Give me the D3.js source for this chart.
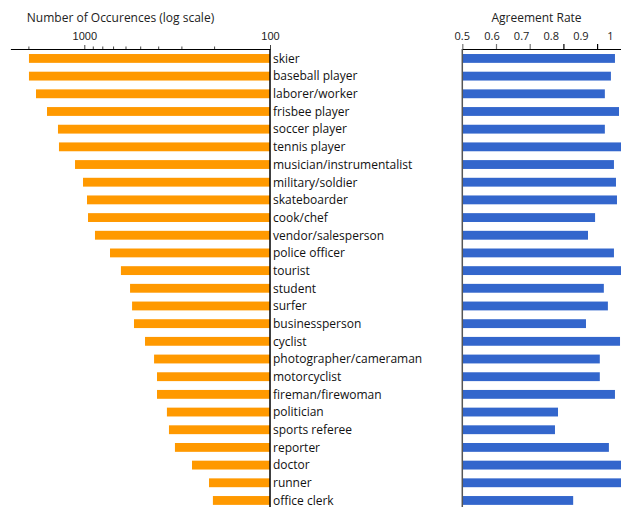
<!DOCTYPE html>
<html lang="en">
<head>
    <meta charset="UTF-8">
    <title>Occurrences and Agreement Rate</title>
    <script src="https://d3js.org/d3.v7.min.js"></script>
    <style>
        body { margin: 0; background: #fff; }
        svg { display: block; font-family: "Open Sans", sans-serif; }
        .title { font-size: 12px; fill: #222; text-anchor: middle; }
        .tick text { font-size: 11px; fill: #222; }
        .cat { font-size: 12px; fill: #111; }
    </style>
</head>
<body>
    <div id="chart"></div>
    <script>
        const categories = ["skier", "baseball player", "laborer/worker", "frisbee player", "soccer player",
            "tennis player", "musician/instrumentalist", "military/soldier", "skateboarder", "cook/chef",
            "vendor/salesperson", "police officer", "tourist", "student", "surfer", "businessperson",
            "cyclist", "photographer/cameraman", "motorcyclist", "fireman/firewoman", "politician",
            "sports referee", "reporter", "doctor", "runner", "office clerk"];
        const occurrences = [1986, 1986, 1820, 1588, 1386, 1369, 1122, 1016, 967, 955, 876, 727, 635,
            567, 553, 540, 471, 421, 406, 406, 359, 350, 325, 263, 213, 203];
        const agreement = [0.953, 0.941, 0.923, 0.965, 0.923, 1.0, 0.950, 0.956, 0.959, 0.894, 0.873,
            0.950, 1.0, 0.920, 0.932, 0.867, 0.968, 0.908, 0.908, 0.953, 0.784, 0.775, 0.935, 1.0, 1.0, 0.829];
        const countTicks = [2000, 1000, 900, 800, 700, 600, 500, 400, 300, 200, 100];
        const countLabels = [1000, 100];
        const rateTicks = [0.5, 0.6, 0.7, 0.8, 0.9, 1.0];

        const width = 621, height = 507;
        const axisY = 49;

        const svg = d3.select("#chart").append("svg")
            .attr("width", width)
            .attr("height", height);

        const y = d3.scaleBand()
            .domain(categories)
            .range([49.6, 509.3])
            .paddingInner(0.5)
            .paddingOuter(0.25);

        // left panel: log scale, growing to the left
        const xCount = d3.scaleLog().domain([2500, 100]).range([10.4, 270]);

        svg.append("g").selectAll("rect")
            .data(categories)
            .join("rect")
            .attr("x", (d, i) => xCount(occurrences[i]))
            .attr("y", d => y(d))
            .attr("width", (d, i) => xCount(100) - xCount(occurrences[i]))
            .attr("height", y.bandwidth())
            .attr("fill", "#ff9900");

        const countAxis = svg.append("g")
            .attr("transform", `translate(0,${axisY})`)
            .call(d3.axisTop(xCount)
                .tickValues(countTicks)
                .tickSize(4)
                .tickSizeOuter(0)
                .tickFormat(d => countLabels.includes(d) ? d : ""));
        countAxis.select(".domain").attr("stroke", "#000").attr("stroke-width", 1.2);
        countAxis.selectAll(".tick line")
            .attr("stroke", "#444")
            .attr("y2", d => countLabels.includes(d) ? -4 : -2.5);
        countAxis.selectAll(".tick text").attr("y", -9);

        svg.append("line")
            .attr("x1", xCount(100)).attr("x2", xCount(100))
            .attr("y1", axisY).attr("y2", height)
            .attr("stroke", "#000").attr("stroke-width", 1.5);

        svg.append("g").selectAll("text")
            .data(categories)
            .join("text")
            .attr("class", "cat")
            .attr("x", xCount(100) + 3)
            .attr("y", d => y(d) + y.bandwidth() / 2)
            .attr("dy", "0.36em")
            .text(d => d);

        svg.append("text")
            .attr("class", "title")
            .attr("x", 120.5)
            .attr("y", 22)
            .text("Number of Occurences (log scale)");

        // right panel: agreement rate
        const xRate = d3.scaleLinear().domain([0.5, 1.0]).range([462.3, 630.8]);
        // tick labels in the picture sit a little left of their ticks
        const xRateLabel = d3.scaleLinear().domain([0.5, 1.0]).range([462.3, 610.5]);

        svg.append("g").selectAll("rect")
            .data(categories)
            .join("rect")
            .attr("x", xRate(0.5))
            .attr("y", d => y(d))
            .attr("width", (d, i) => xRate(agreement[i]) - xRate(0.5))
            .attr("height", y.bandwidth())
            .attr("fill", "#3366cc");

        const rateAxis = svg.append("g")
            .attr("transform", `translate(0,${axisY})`)
            .call(d3.axisTop(xRate)
                .tickValues(rateTicks)
                .tickSize(5)
                .tickSizeOuter(0)
                .tickFormat(""));
        rateAxis.select(".domain").attr("stroke", "#000").attr("stroke-width", 1.2);
        rateAxis.selectAll(".tick line").attr("stroke", (d, i) => i < 3 ? "#777" : "#000").attr("stroke-width", 1.2);

        svg.append("g").selectAll("text")
            .data(rateTicks)
            .join("text")
            .attr("class", "tick-label")
            .attr("x", d => xRateLabel(d))
            .attr("y", 40)
            .attr("text-anchor", "middle")
            .style("font-size", "11px")
            .attr("fill", "#222")
            .text(d3.format("~g"));

        svg.append("line")
            .attr("x1", xRate(0.5)).attr("x2", xRate(0.5))
            .attr("y1", axisY).attr("y2", height)
            .attr("stroke", "#555").attr("stroke-width", 1.5);

        svg.append("text")
            .attr("class", "title")
            .attr("x", 536.5)
            .attr("y", 22)
            .text("Agreement Rate");
    </script>
</body>
</html>
